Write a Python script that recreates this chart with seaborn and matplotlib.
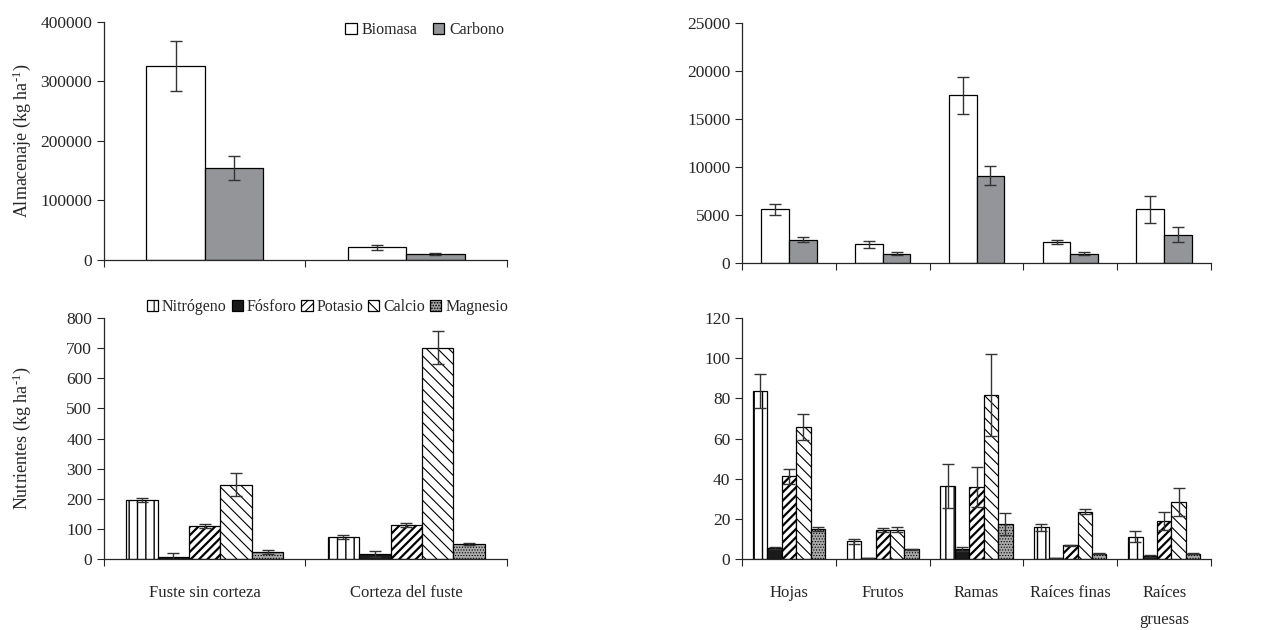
import numpy as np
import pandas as pd
import matplotlib
matplotlib.use("Agg")
import matplotlib.pyplot as plt
from matplotlib.patches import Patch
import seaborn as sns

# ---------------- data ----------------
cats_left = ["Fuste sin corteza", "Corteza del fuste"]
cats_right = ["Hojas", "Frutos", "Ramas", "Raíces finas", "Raíces\ngruesas"]

mass_series = ["Biomasa", "Carbono"]
biomasa_left = [326000, 21300]
biomasa_left_err = [42000, 4000]
carbono_left = [155000, 10600]
carbono_left_err = [20000, 2000]

biomasa_right = [5600, 1950, 17450, 2200, 5600]
biomasa_right_err = [570, 360, 1900, 250, 1400]
carbono_right = [2400, 980, 9100, 980, 2950]
carbono_right_err = [260, 150, 1000, 150, 800]

nutrients = ["Nitrógeno", "Fósforo", "Potasio", "Calcio", "Magnesio"]
nit_left = [196, 72]
nit_left_err = [8, 7]
fos_left = [8, 17]
fos_left_err = [13, 10]
pot_left = [110, 113]
pot_left_err = [7, 8]
cal_left = [247, 702]
cal_left_err = [39, 56]
mag_left = [23, 49]
mag_left_err = [7, 4]

nit_right = [83.5, 8.8, 36.3, 15.8, 11.2]
nit_right_err = [8.5, 1.1, 10.8, 1.8, 2.9]
fos_right = [5.5, 0.4, 4.8, 0.5, 1.5]
fos_right_err = [0.4, 0.1, 1.0, 0.1, 0.3]
pot_right = [41.1, 14.5, 36.0, 6.8, 19.0]
pot_right_err = [3.6, 1.0, 10.0, 0.4, 4.4]
cal_right = [65.9, 14.6, 81.5, 23.5, 28.3]
cal_right_err = [6.5, 1.3, 20.4, 1.3, 7.0]
mag_right = [14.8, 4.8, 17.3, 2.7, 2.7]
mag_right_err = [1.0, 0.3, 5.4, 0.3, 0.3]

# ---------------- style ----------------
sns.set_style("ticks")
plt.rcParams["font.family"] = ["Liberation Serif", "DejaVu Serif"]
plt.rcParams["mathtext.fontset"] = "custom"
plt.rcParams["mathtext.rm"] = "Liberation Serif"
plt.rcParams["mathtext.default"] = "regular"
plt.rcParams["font.size"] = 12
plt.rcParams["hatch.linewidth"] = 0.8
plt.rcParams["axes.linewidth"] = 0.9

mass_style = {
    "Biomasa": dict(fc="white", hatch=None),
    "Carbono": dict(fc="#939598", hatch=None),
}
nut_style = {
    "Nitrógeno": dict(fc="white", hatch="||", hlw=1.0),
    "Fósforo": dict(fc="#1a1a1a", hatch=None, hlw=0.8),
    "Potasio": dict(fc="white", hatch="////", hlw=1.6),
    "Calcio": dict(fc="white", hatch="\\\\\\", hlw=0.8),
    "Magnesio": dict(fc="#a9a9a9", hatch="......", hlw=0.5),
}


def set_hlw(p, w):
    if hasattr(p, "set_hatch_linewidth"):
        p.set_hatch_linewidth(w)
    else:
        p._hatch_linewidth = w


def make_df(cats, series, values, errs):
    rows = []
    for s, vals, es in zip(series, values, errs):
        for c, v, e in zip(cats, vals, es):
            rows.append({"cat": c, "series": s, "val": v, "err": e})
    return pd.DataFrame(rows)


def draw(ax, df, cats, series, styles, width, ylim, yticks):
    sns.barplot(data=df, x="cat", y="val", hue="series", order=cats,
                hue_order=series, ax=ax, width=width, errorbar=None,
                palette=["white"] * len(series), edgecolor="black",
                linewidth=0.9, legend=False, saturation=1)
    for s, cont in zip(series, ax.containers):
        st = styles[s]
        sub = df[df["series"] == s].set_index("cat")
        for p in cont.patches:
            p.set_facecolor(st["fc"])
            if st.get("hatch"):
                p.set_hatch(st["hatch"])
            if "hlw" in st:
                set_hlw(p, st["hlw"])
            xc = p.get_x() + p.get_width() / 2
            ci = int(round(xc))
            row = sub.loc[cats[ci]]
            ax.errorbar(xc, row["val"], yerr=row["err"], fmt="none",
                        ecolor="#333333", elinewidth=1.0, capsize=4,
                        capthick=1.0, zorder=5)
    n = len(cats)
    ax.set_xlim(-0.5, n - 0.5)
    ax.set_ylim(*ylim)
    ax.set_yticks(yticks)
    ax.set_xticks(np.arange(n + 1) - 0.5)
    ax.set_xticklabels([])
    ax.set_xticks(np.arange(n), minor=True)
    ax.tick_params(axis="x", which="major", length=5, direction="out")
    ax.tick_params(axis="x", which="minor", length=0, pad=19)
    ax.tick_params(axis="y", length=5, direction="out", labelsize=12.5)
    ax.set_xlabel("")
    ax.set_ylabel("")
    sns.despine(ax=ax)


fig = plt.figure(figsize=(12.7, 6.3), dpi=100)
ax1 = fig.add_axes([0.0819, 0.5873, 0.3173, 0.3778])
ax2 = fig.add_axes([0.5843, 0.5825, 0.3693, 0.3810])
ax3 = fig.add_axes([0.0819, 0.1127, 0.3173, 0.3825])
ax4 = fig.add_axes([0.5843, 0.1127, 0.3693, 0.3825])

df1 = make_df(cats_left, mass_series, [biomasa_left, carbono_left],
              [biomasa_left_err, carbono_left_err])
df2 = make_df(cats_right, mass_series, [biomasa_right, carbono_right],
              [biomasa_right_err, carbono_right_err])
df3 = make_df(cats_left, nutrients,
              [nit_left, fos_left, pot_left, cal_left, mag_left],
              [nit_left_err, fos_left_err, pot_left_err, cal_left_err, mag_left_err])
df4 = make_df(cats_right, nutrients,
              [nit_right, fos_right, pot_right, cal_right, mag_right],
              [nit_right_err, fos_right_err, pot_right_err, cal_right_err, mag_right_err])

draw(ax1, df1, cats_left, mass_series, mass_style, 0.58, (0, 400000),
     np.arange(0, 400001, 100000))
draw(ax2, df2, cats_right, mass_series, mass_style, 0.59, (0, 25000),
     np.arange(0, 25001, 5000))
draw(ax3, df3, cats_left, nutrients, nut_style, 0.78, (0, 800),
     np.arange(0, 801, 100))
draw(ax4, df4, cats_right, nutrients, nut_style, 0.77, (0, 120),
     np.arange(0, 121, 20))

ax3.set_xticklabels(cats_left, minor=True, fontsize=12)
ax4.set_xticklabels(cats_right, minor=True, fontsize=12)
for t in ax4.get_xticklabels(minor=True):
    t.set_linespacing(1.9)

ax1.set_ylabel("Almacenaje (kg ha$^{\\text{-1}}$)", fontsize=13)
ax3.set_ylabel("Nutrientes (kg ha$^{\\text{-1}}$)", fontsize=13)
ax1.yaxis.set_label_coords(-0.175, 0.5)
ax3.yaxis.set_label_coords(-0.175, 0.5)

# legends
mh = [Patch(facecolor=mass_style[s]["fc"], edgecolor="black", linewidth=0.9,
            label=s) for s in mass_series]
ax1.legend(handles=mh, loc="upper right", bbox_to_anchor=(1.017, 1.04),
           ncol=2, frameon=False, fontsize=11.5, handlelength=0.7,
           handleheight=0.7, handletextpad=0.3, columnspacing=1.0,
           borderaxespad=0.2)

nh = []
for s in nutrients:
    st = nut_style[s]
    nh.append(Patch(facecolor=st["fc"], edgecolor="black", linewidth=0.9,
                    hatch=st["hatch"], label=s))
for p in nh:
    set_hlw(p, 0.8)
fig.legend(handles=nh, loc="center right", bbox_to_anchor=(0.400, 0.512),
           ncol=5, frameon=False, fontsize=11.5, handlelength=0.7,
           handleheight=0.7, handletextpad=0.25, columnspacing=0.3,
           borderaxespad=0.0, borderpad=0.0)

fig.savefig("out.png", dpi=100)
